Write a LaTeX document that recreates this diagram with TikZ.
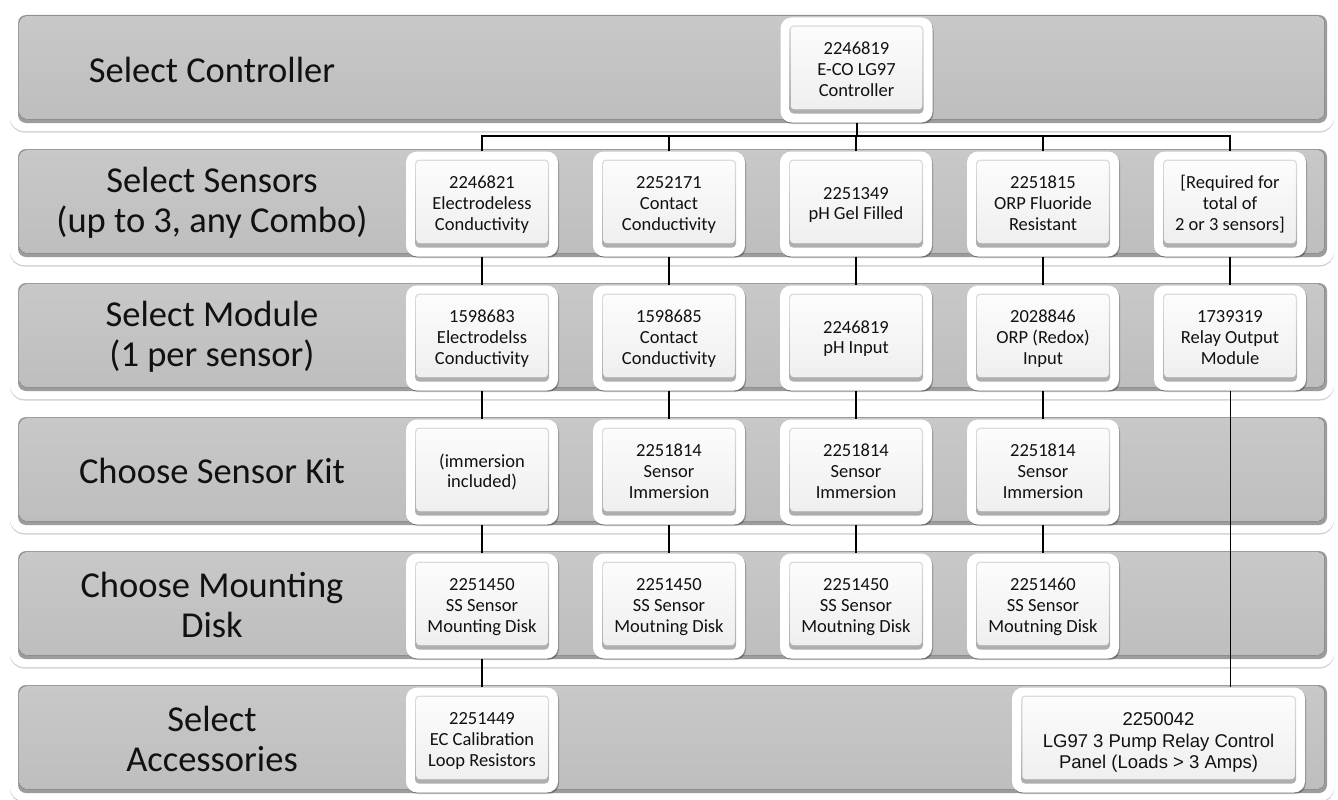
\documentclass[tikz,border=0pt]{standalone}
\usepackage{fontspec}
\setmainfont{Carlito}
\newfontfamily\arialfont{Liberation Sans}
\usetikzlibrary{shadows}
\definecolor{txt}{HTML}{111111}
\definecolor{bandedgec}{HTML}{9C9C9C}
\definecolor{bandA}{HTML}{C8C8C8}
\definecolor{bandB}{HTML}{BEBEBE}
\definecolor{innerA}{HTML}{E2E2E2}
\definecolor{innerB}{HTML}{A8A8A8}
\definecolor{faceA}{HTML}{FCFCFC}
\definecolor{faceB}{HTML}{EFEFEF}
\newcommand\boxfont{\fontsize{18.5}{20.7}\selectfont}
\newcommand\panelfont{\arialfont\fontsize{18.5}{21.7}\selectfont}
\newcommand\labfont{\fontsize{36.5}{40}\selectfont}
\newcommand\itemtop{\rule{0pt}{16pt}}
\newcommand\itembot{\rule[-5pt]{0pt}{5pt}}
\newcommand\paneltop{\rule{0pt}{19pt}}
\newcommand\panelbot{\rule[-5pt]{0pt}{5pt}}
\newcommand\bevelbox{%
  \fill[rounded corners=4pt, top color=innerA, bottom color=innerB]
    ([shift={(9pt,9pt)}]path picture bounding box.south west) rectangle
    ([shift={(-9pt,-8pt)}]path picture bounding box.north east);
  \fill[rounded corners=3pt, top color=faceA, bottom color=faceB]
    ([shift={(10.5pt,13.5pt)}]path picture bounding box.south west) rectangle
    ([shift={(-10.5pt,-9.5pt)}]path picture bounding box.north east);
}
\tikzset{
  band/.style={fill=white, rounded corners=14pt,
    drop shadow={shadow xshift=0pt, shadow yshift=-1.5pt, opacity=.18, fill=black}},
  bandedge/.style={fill=bandedgec, rounded corners=8pt},
  bandface/.style={rounded corners=7pt, top color=bandA, bottom color=bandB},
  item/.style={fill=white, rounded corners=11pt, minimum width=152pt,
    minimum height=105pt, inner sep=0pt, align=center, text=txt, font=\boxfont,
    drop shadow={shadow xshift=1pt, shadow yshift=-1.5pt, opacity=.28, fill=black},
    path picture={\bevelbox}},
  panelbox/.style={item, minimum width=293pt, font=\panelfont},
  rowlabel/.style={align=center, font=\labfont, text=txt, inner sep=0pt},
  conn/.style={line width=2pt, black},
  relayline/.style={line width=1pt, black}
}
\begin{document}
\begin{tikzpicture}[x=1pt,y=-1pt]
\useasboundingbox (0,0) rectangle (1338,800);
\fill[white] (0,0) rectangle (1338,800);
% bands
\foreach \t in {15,149,283,417,551,685}{
  \fill[band] (10,\t-7) rectangle (1334,\t+116);
  \fill[bandedge] (18,\t) rectangle (1327,\t+108);
  \fill[bandface] (19.5,\t+1) rectangle (1324.5,\t+104);
}
% row labels
\node[rowlabel] (L1) at (212,70) {Select Controller};
\node[rowlabel] (L2) at (212,203) {Select Sensors\\(up to 3, any Combo)};
\node[rowlabel] (L3) at (212,337) {Select Module\\(1 per sensor)};
\node[rowlabel] (L4) at (212,471) {Choose Sensor Kit};
\node[rowlabel] (L5) at (212,605) {Choose Mounting\\Disk};
\node[rowlabel] (L6) at (212,739) {Select\\Accessories};
% row 1
\node[item] (ctrl) at (856.5,70) {\itemtop 2246819\\E-CO LG97\\Controller\itembot};
% row 2 sensors
\node[item] (s1) at (482,204) {\itemtop 2246821\\Electrodeless\\Conductivity\itembot};
\node[item] (s2) at (669,204) {\itemtop 2252171\\Contact\\Conductivity\itembot};
\node[item] (s3) at (856,204) {\itemtop 2251349\\pH Gel Filled\itembot};
\node[item] (s4) at (1043,204) {\itemtop 2251815\\ORP Fluoride\\Resistant\itembot};
\node[item] (s5) at (1230,204) {\itemtop [Required for\\total of\\2 or 3 sensors]\itembot};
% row 3 modules
\node[item] (m1) at (482,338) {\itemtop 1598683\\Electrodelss\\Conductivity\itembot};
\node[item] (m2) at (669,338) {\itemtop 1598685\\Contact\\Conductivity\itembot};
\node[item] (m3) at (856,338) {\itemtop 2246819\\pH Input\itembot};
\node[item] (m4) at (1043,338) {\itemtop 2028846\\ORP (Redox)\\Input\itembot};
\node[item] (m5) at (1230,338) {\itemtop 1739319\\Relay Output\\Module\itembot};
% row 4 kits
\node[item] (k1) at (482,472) {\itemtop (immersion\\included)\itembot};
\node[item] (k2) at (669,472) {\itemtop 2251814\\Sensor\\Immersion\itembot};
\node[item] (k3) at (856,472) {\itemtop 2251814\\Sensor\\Immersion\itembot};
\node[item] (k4) at (1043,472) {\itemtop 2251814\\Sensor\\Immersion\itembot};
% row 5 disks
\node[item] (d1) at (482,606) {\itemtop 2251450\\SS Sensor\\Mounting Disk\itembot};
\node[item] (d2) at (669,606) {\itemtop 2251450\\SS Sensor\\Moutning Disk\itembot};
\node[item] (d3) at (856,606) {\itemtop 2251450\\SS Sensor\\Moutning Disk\itembot};
\node[item] (d4) at (1043,606) {\itemtop 2251460\\SS Sensor\\Moutning Disk\itembot};
% row 6 accessories
\node[item] (a1) at (482,740) {\itemtop 2251449\\EC Calibration\\Loop Resistors\itembot};
\node[panelbox] (panel) at (1158.5,740) {\paneltop 2250042\\LG97 3 Pump Relay Control\\Panel (Loads > 3 Amps)\panelbot};
% connectors
\coordinate (bus) at (856.5,136);
\draw[conn] (ctrl.south) -- (bus);
\draw[conn] (s1.north) |- (bus) -| (s5.north);
\foreach \c in {s2,s3,s4} \draw[conn] (\c.north) -- (\c.north |- bus);
\draw[conn] (s1) -- (m1);
\draw[conn] (m1) -- (k1);
\draw[conn] (k1) -- (d1);
\draw[conn] (d1) -- (a1);
\draw[conn] (s2) -- (m2);
\draw[conn] (m2) -- (k2);
\draw[conn] (k2) -- (d2);
\draw[conn] (s3) -- (m3);
\draw[conn] (m3) -- (k3);
\draw[conn] (k3) -- (d3);
\draw[conn] (s4) -- (m4);
\draw[conn] (m4) -- (k4);
\draw[conn] (k4) -- (d4);
\draw[conn] (s5) -- (m5);
\draw[relayline] (m5.south) -- (m5.south |- panel.north);
\end{tikzpicture}
\end{document}
